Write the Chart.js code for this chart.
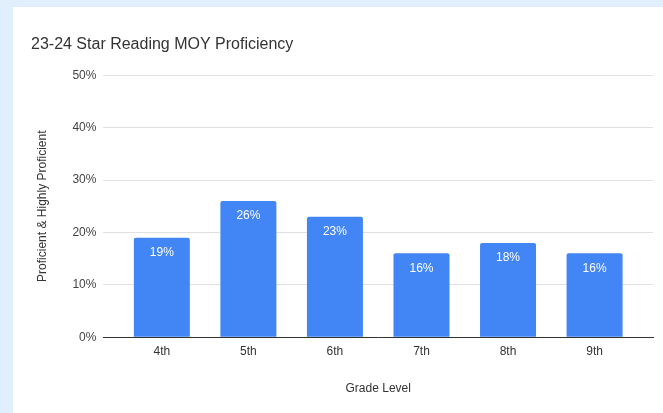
<!DOCTYPE html>
<html>
<head>
<meta charset="utf-8">
<script src="https://cdn.jsdelivr.net/npm/chart.js@4/dist/chart.umd.min.js"></script>
<style>
    body { margin: 0; background: #e1eefc; width: 663px; height: 413px; overflow: hidden; }
    #card { position: absolute; left: 13px; top: 7px; width: 650px; height: 406px; background: #ffffff; }
</style>
</head>
<body>
<div id="card"><canvas id="chart"></canvas></div>
<script>
const grades = ['4th', '5th', '6th', '7th', '8th', '9th'];
const proficiency = [19, 26, 23, 16, 18, 16];
const yTicks = [0, 10, 20, 30, 40, 50];

// white value labels drawn inside the top of each bar
const barLabels = {
    id: 'barLabels',
    afterDatasetsDraw(chart) {
        const ctx = chart.ctx;
        const meta = chart.getDatasetMeta(0);
        ctx.save();
        ctx.fillStyle = '#ffffff';
        ctx.font = '12px Arial, "Liberation Sans", sans-serif';
        ctx.textAlign = 'center';
        ctx.textBaseline = 'middle';
        meta.data.forEach((bar, i) => {
            ctx.fillText(proficiency[i] + '%', bar.x, bar.y + 15);
        });
        ctx.restore();
    }
};

new Chart(document.getElementById('chart'), {
    type: 'bar',
    data: {
        labels: grades,
        datasets: [{
            label: 'Proficient & Highly Proficient',
            data: proficiency,
            backgroundColor: '#4285f4',
            borderRadius: 2,
            borderSkipped: 'bottom',
            barPercentage: 1,
            categoryPercentage: 0.647
        }]
    },
    options: {
        responsive: true,
        maintainAspectRatio: false,
        animation: false,
        layout: { padding: { left: 18, right: 10, top: 28, bottom: 13 } },
        plugins: {
            legend: { display: false },
            tooltip: { enabled: false },
            title: {
                display: true,
                text: '23-24 Star Reading MOY Proficiency',
                align: 'start',
                color: '#333333',
                font: { family: 'Arial, "Liberation Sans", sans-serif', size: 16, weight: 'normal' },
                padding: { top: 0, bottom: 21 }
            }
        },
        scales: {
            x: {
                grid: { display: false, drawTicks: false },
                border: { color: '#333333', width: 1 },
                afterBuildTicks: scale => {
                    // small inset on both ends like the original
                    scale._startValue -= 0.175;
                    scale._valueRange += 0.35;
                },
                ticks: { color: '#333333', font: { family: 'Arial, "Liberation Sans", sans-serif', size: 12 }, padding: 7 },
                title: {
                    display: true,
                    text: 'Grade Level',
                    color: '#333333',
                    font: { family: 'Arial, "Liberation Sans", sans-serif', size: 12 },
                    padding: { top: 16 }
                }
            },
            y: {
                min: 0,
                max: 50,
                afterBuildTicks: scale => { scale.ticks = yTicks.map(v => ({ value: v })); },
                grid: { color: '#e0e0e0', drawTicks: false },
                border: { display: false },
                ticks: {
                    color: '#444444',
                    font: { family: 'Arial, "Liberation Sans", sans-serif', size: 12 },
                    padding: 7,
                    callback: v => v + '%'
                },
                title: {
                    display: true,
                    text: 'Proficient & Highly Proficient',
                    color: '#333333',
                    font: { family: 'Arial, "Liberation Sans", sans-serif', size: 12 },
                    padding: { top: 4, bottom: 16 }
                }
            }
        }
    },
    plugins: [barLabels]
});
</script>
</body>
</html>
